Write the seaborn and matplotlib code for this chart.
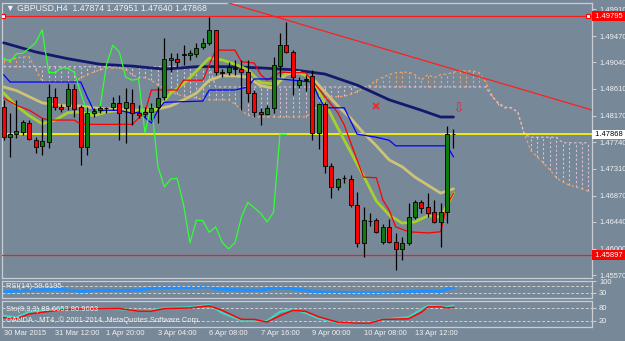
import matplotlib
matplotlib.use("Agg")
import matplotlib.pyplot as plt
import seaborn as sns
import numpy as np

sns.set_style("dark")
plt.rcParams['font.family'] = ['Liberation Sans', 'DejaVu Sans']

# ---- data (GBPUSD H4) ----
opens = [1.4831, 1.4782, 1.4787, 1.4791, 1.4805, 1.4777, 1.4768, 1.4774, 1.4848, 1.4831,
         1.4833, 1.4861, 1.4831, 1.4766, 1.4822, 1.4826, 1.4830, 1.4831, 1.4838, 1.4830,
         1.4838, 1.4822, 1.4823, 1.4823, 1.4831, 1.4848, 1.4908, 1.4910, 1.4916, 1.4916,
         1.4918, 1.4929, 1.4936, 1.4957, 1.4888, 1.4888, 1.4895, 1.4893, 1.4888, 1.4854,
         1.4823, 1.4820, 1.4830, 1.4898, 1.4932, 1.4921, 1.4867, 1.4875, 1.4882, 1.4789,
         1.4836, 1.4735, 1.4701, 1.4716, 1.4714, 1.4672, 1.4610, 1.4645, 1.4647, 1.4611,
         1.4636, 1.4611, 1.4600, 1.4610, 1.4652, 1.4676, 1.4668, 1.4660, 1.4644, 1.4660,
         1.47874]
highs = [1.4843, 1.4822, 1.4843, 1.4810, 1.4810, 1.4782, 1.4813, 1.4869, 1.4862, 1.4836,
         1.4870, 1.4869, 1.4835, 1.4831, 1.4830, 1.4833, 1.4831, 1.4848, 1.4851, 1.4862,
         1.4861, 1.4835, 1.4831, 1.4838, 1.4864, 1.4944, 1.4919, 1.4919, 1.4932, 1.4924,
         1.4936, 1.4944, 1.4978, 1.4957, 1.4893, 1.4905, 1.4908, 1.4908, 1.4908, 1.4859,
         1.4830, 1.4835, 1.4913, 1.4952, 1.4970, 1.4924, 1.4880, 1.4883, 1.4892, 1.4838,
         1.4839, 1.4740, 1.4716, 1.4720, 1.4720, 1.4693, 1.4668, 1.4658, 1.4650, 1.4641,
         1.4649, 1.4626, 1.4619, 1.4675, 1.4680, 1.4680, 1.4691, 1.4680, 1.4675, 1.4800,
         1.47951]
lows = [1.4777, 1.4750, 1.4781, 1.4786, 1.4777, 1.4756, 1.4753, 1.4764, 1.4826, 1.4823,
        1.4826, 1.4815, 1.4737, 1.4753, 1.4815, 1.4822, 1.4822, 1.4826, 1.4777, 1.4773,
        1.4802, 1.4813, 1.4815, 1.4810, 1.4805, 1.4843, 1.4888, 1.4896, 1.4900, 1.4908,
        1.4913, 1.4926, 1.4932, 1.4883, 1.4880, 1.4883, 1.4883, 1.4826, 1.4839, 1.4815,
        1.4802, 1.4818, 1.4822, 1.4880, 1.4919, 1.4851, 1.4862, 1.4857, 1.4777, 1.4763,
        1.4724, 1.4683, 1.4696, 1.4707, 1.4668, 1.4603, 1.4587, 1.4637, 1.4626, 1.4608,
        1.4609, 1.4566, 1.4582, 1.4606, 1.4649, 1.4658, 1.4652, 1.4642, 1.4603, 1.4642,
        1.47640]
closes = [1.4782, 1.4787, 1.4792, 1.4807, 1.4779, 1.4766, 1.4776, 1.4848, 1.4831, 1.4828,
          1.4861, 1.4828, 1.4766, 1.4822, 1.4825, 1.4830, 1.4829, 1.4838, 1.4822, 1.4839,
          1.4822, 1.4818, 1.4820, 1.4830, 1.4846, 1.4910, 1.4911, 1.4905, 1.4918, 1.4919,
          1.4927, 1.4936, 1.4957, 1.4888, 1.4887, 1.4896, 1.4894, 1.4888, 1.4854, 1.4823,
          1.4820, 1.4830, 1.4900, 1.4932, 1.4921, 1.4880, 1.4875, 1.4877, 1.4789, 1.4836,
          1.4735, 1.4701, 1.4714, 1.4715, 1.4672, 1.4610, 1.4647, 1.4646, 1.4627, 1.4636,
          1.4611, 1.4600, 1.4610, 1.4652, 1.4676, 1.4667, 1.4658, 1.4644, 1.4660, 1.4787,
          1.47868]

# moving averages sampled every 2 bars
ma_bars = list(range(0, 71, 2))
ma_slow = [1.4864, 1.4858, 1.4848, 1.4838, 1.4835, 1.4833, 1.4833, 1.4830, 1.4828, 1.4828,
           1.4826, 1.4826, 1.4828, 1.4833, 1.4843, 1.4854, 1.4875, 1.4882, 1.4882, 1.4880,
           1.4866, 1.4862, 1.4885, 1.4887, 1.4879, 1.4856, 1.4833, 1.4813, 1.4789, 1.4768,
           1.4745, 1.4734, 1.4717, 1.4704, 1.4691, 1.4698]
ma_fast = [1.4854, 1.4833, 1.4817, 1.4804, 1.4810, 1.4822, 1.4823, 1.4817, 1.4823, 1.4826,
           1.4826, 1.4826, 1.4828, 1.4854, 1.4869, 1.4890, 1.4911, 1.4908, 1.4901, 1.4892,
           1.4871, 1.4869, 1.4887, 1.4888, 1.4877, 1.4838, 1.4797, 1.4758, 1.4719, 1.4678,
           1.4655, 1.4642, 1.4644, 1.4654, 1.4652, 1.4691]
ma_long_bars = [0, 5, 10, 15, 20, 25, 30, 35, 40, 45, 50, 55, 60, 65, 68, 70]
ma_long = [1.4936, 1.4921, 1.4910, 1.4901, 1.4898, 1.4893, 1.4897, 1.4897, 1.4895, 1.4892,
           1.4885, 1.4867, 1.4843, 1.4826, 1.4815, 1.4815]

# Ichimoku
tenkan_bars = [0, 2, 4, 6, 7, 11, 12, 20, 21, 22, 23, 27, 28, 31, 32, 33, 36, 37, 39, 40,
               41, 43, 47, 48, 50, 52, 53, 55, 56, 58, 59, 60, 61, 63, 66, 68, 69, 70]
tenkan = [1.4846, 1.4834, 1.4826, 1.4813, 1.4810, 1.4810, 1.4803, 1.4803, 1.4813, 1.4823,
          1.4859, 1.4859, 1.4875, 1.4875, 1.4900, 1.4924, 1.4924, 1.4905, 1.4903, 1.4884,
          1.4875, 1.4888, 1.4887, 1.4875, 1.4848, 1.4822, 1.4802, 1.4745, 1.4717, 1.4716,
          1.4680, 1.4663, 1.4636, 1.4628, 1.4626, 1.4628, 1.4672, 1.4691]
kijun_bars = [0, 1, 12, 13, 14, 18, 20, 21, 23, 24, 25, 31, 32, 36, 38, 39, 43, 48, 49, 50,
              53, 55, 58, 60, 61, 69, 70]
kijun = [1.4884, 1.4872, 1.4872, 1.4848, 1.4826, 1.4826, 1.4821, 1.4823, 1.4805, 1.4826,
         1.4839, 1.4841, 1.4859, 1.4859, 1.4864, 1.4877, 1.4877, 1.4872, 1.4848, 1.4830,
         1.4830, 1.4787, 1.4782, 1.4777, 1.4768, 1.4768, 1.4750]
span_a = [1.4908, 1.4908, 1.4911, 1.4913, 1.4913, 1.4892, 1.4874, 1.4872, 1.4872, 1.4872,
          1.4872, 1.4872, 1.4879, 1.4884, 1.4888, 1.4892, 1.4895, 1.4895, 1.4895, 1.4892,
          1.4884, 1.4879, 1.4879, 1.4875, 1.4867, 1.4862, 1.4856, 1.4852, 1.4849, 1.4848,
          1.4846, 1.4844, 1.4843, 1.4843, 1.4843, 1.4843, 1.4836, 1.4826, 1.4818, 1.4815,
          1.4815, 1.4815, 1.4815, 1.4815, 1.4815, 1.4815, 1.4815, 1.4815, 1.4823, 1.4835,
          1.4844, 1.4848, 1.4848, 1.4849, 1.4852, 1.4856, 1.4862, 1.4867, 1.4875, 1.4880,
          1.4884, 1.4887, 1.4888, 1.4888, 1.4884, 1.4875, 1.4884, 1.4879, 1.4884, 1.4885,
          1.4888, 1.4890, 1.4890, 1.4890, 1.4887, 1.4872, 1.4851, 1.4835, 1.4830, 1.4830,
          1.4823, 1.4789, 1.4761, 1.4750, 1.4740, 1.4729, 1.4716, 1.4709, 1.4704, 1.4701,
          1.4698, 1.4694]
span_b = ([1.4897] * 33 + [1.4864] * 43 +
          [1.4848, 1.4838, 1.4831, 1.4830, 1.4823, 1.4787, 1.4782, 1.4782, 1.4782, 1.4782,
           1.4782, 1.4773, 1.4773, 1.4773, 1.4773, 1.4773])
chikou_shift = 26

# levels and objects
resist_level = 1.49795
support_level = 1.45897
trend_bars = [34, 92]
trend_vals = [1.5004, 1.4825]
cross_mark = (58, 1.4833)
arrow_mark = (70.8, 1.4831)

# oscillators
rsi_bars = [0, 3, 5, 9, 12, 15, 18, 21, 24, 27, 30, 32, 33, 37, 40, 42, 44, 47, 48, 52,
            55, 58, 61, 65, 68, 69, 70]
rsi = [37, 43, 47, 50, 39, 46, 43, 47, 61, 61, 63, 66, 53, 47, 46, 57, 57, 46, 37, 33,
       30, 30, 33, 41, 39, 53, 59.6195]
sto_bars = [0, 2, 4, 7, 10, 15, 18, 21, 23, 25, 29, 32, 34, 37, 39, 41, 43, 45, 47, 49,
            52, 55, 57, 59, 63, 65, 66, 68, 69, 70]
sto_main = [42, 35, 60, 68, 75, 76, 72, 65, 68, 78, 82, 92, 55, 20, 18, 18, 60, 72, 55, 30,
            10, 8, 10, 25, 35, 72, 88, 85, 82, 89.6653]
sto_signal = [33, 28, 50, 62, 72, 75, 75, 63, 63, 75, 78, 88, 67, 25, 25, 13, 42, 67, 62, 37,
              12, 8, 8, 25, 28, 58, 83, 83, 78, 80.9663]

price_ticks = [1.49910, 1.49470, 1.49040, 1.48610, 1.48170, 1.47740, 1.47310, 1.46870,
               1.46440, 1.46000, 1.45570]
date_ticks = [0, 8, 16, 24, 32, 40, 48, 56, 64]
date_labels = ["30 Mar 2015", "31 Mar 12:00", "1 Apr 20:00", "3 Apr 04:00", "6 Apr 08:00",
               "7 Apr 16:00", "9 Apr 00:00", "10 Apr 08:00", "13 Apr 12:00"]

# ---- styling ----
bg = "#778899"
frame = "#c9ced4"
txt = "#f2f2f2"
fs = 5.4
W, H = 625, 341
xlim = (-0.25, 91.55)

fig = plt.figure(figsize=(W / 100, H / 100), dpi=100, facecolor=bg)


def add_panel(top, bottom):
    ax = fig.add_axes([2 / W, 1 - bottom / H, 590 / W, (bottom - top) / H])
    ax.set_facecolor(bg)
    for s in ax.spines.values():
        s.set_color(frame)
        s.set_linewidth(0.9)
    ax.set_xlim(*xlim)
    ax.grid(False)
    return ax


ax = add_panel(3, 278)
ax_rsi = add_panel(281, 298)
ax_sto = add_panel(301, 327)

bars = np.arange(len(closes))
o, h, l, c = map(np.array, (opens, highs, lows, closes))

# Ichimoku cloud (hatch + span lines)
cloud_bars = np.arange(len(span_a))
sa, sb = np.array(span_a), np.array(span_b)
up = sa >= sb
ax.vlines(cloud_bars[up], sb[up], sa[up], colors="#f4a460", linestyles=(0, (2, 2)), lw=0.8, zorder=1)
ax.vlines(cloud_bars[~up], sa[~up], sb[~up], colors="#d8bfd8", linestyles=(0, (2, 2)), lw=0.8, zorder=1)
sns.lineplot(x=cloud_bars, y=sa, ax=ax, color="#f4a460", lw=0.9, ls=(0, (2, 2)), zorder=2)
sns.lineplot(x=cloud_bars, y=sb, ax=ax, color="#d8bfd8", lw=0.9, ls=(0, (2, 2)), zorder=2)

# horizontal levels and trend line
ax.axhline(resist_level, color="#ff1a1a", lw=0.9, zorder=3)
ax.axhline(support_level, color="#ff1a1a", lw=0.9, zorder=3)
ax.axhline(closes[-1], color="#ffff00", lw=1.2, zorder=3)
sns.lineplot(x=trend_bars, y=trend_vals, ax=ax, color="#ff2020", lw=0.9, zorder=3)
ax.plot([xlim[0] + 0.15, xlim[1] - 0.55], [resist_level] * 2, ls="none", marker="s", ms=3,
        mfc="white", mec="red", mew=0.8, zorder=4)

# indicator lines
sns.lineplot(x=ma_long_bars, y=ma_long, ax=ax, color="#14196b", lw=2.0, zorder=4)
sns.lineplot(x=ma_bars, y=ma_slow, ax=ax, color="#cfc277", lw=2.0, zorder=4)
sns.lineplot(x=ma_bars, y=ma_fast, ax=ax, color="#a6d12c", lw=2.0, zorder=4)
sns.lineplot(x=tenkan_bars, y=tenkan, ax=ax, color="#ff0000", lw=0.9, zorder=4)
sns.lineplot(x=kijun_bars, y=kijun, ax=ax, color="#0000ff", lw=0.9, zorder=4)
sns.lineplot(x=bars[:len(closes) - chikou_shift], y=c[chikou_shift:], ax=ax, color="#33ff33",
             lw=0.9, zorder=4)

# candles
ax.vlines(bars, l, h, color="black", lw=0.9, zorder=5)
bull = c >= o
body = np.where(np.abs(c - o) < 0.00004, 0.00004, np.abs(c - o))
ax.bar(bars[bull], body[bull], bottom=o[bull], width=0.62, color="#0f7a0f",
       edgecolor="black", lw=0.6, zorder=6)
ax.bar(bars[~bull], body[~bull], bottom=c[~bull], width=0.62, color="#ff0000",
       edgecolor="black", lw=0.6, zorder=6)

ax.plot(*cross_mark, marker="x", color="#ff2020", ms=4, mew=1.2, zorder=6)
ax.text(arrow_mark[0], arrow_mark[1], "\u21e9", color="#ff2020", fontsize=10, ha="center",
        va="center", zorder=6, family="DejaVu Sans")

ax.set_ylim(1.45526, 1.50008)
ax.yaxis.tick_right()
ax.set_yticks(price_ticks, labels=[f"{p:.5f}" for p in price_ticks])
ax.tick_params(axis="y", colors=frame, labelcolor=txt, labelsize=fs, length=3, width=0.8, pad=2)
ax.set_xticks([])
ytr = ax.get_yaxis_transform()
for val, fc, tc in [(resist_level, "#ff0000", "white"), (closes[-1], "white", "black"),
                    (support_level, "#ff0000", "white")]:
    ax.text(1.0025, val, f" {val:.5f} ", transform=ytr, fontsize=fs, color=tc, va="center",
            ha="left", bbox=dict(facecolor=fc, edgecolor="none", pad=0.9), zorder=10, clip_on=False)

fig.text(6 / W, 1 - 8 / H, f"\u25bc GBPUSD,H4  {opens[-1]:.5f} {highs[-1]:.5f} {lows[-1]:.5f} {closes[-1]:.5f}",
         color=txt, fontsize=6.3, va="center", ha="left")

# RSI panel
sns.lineplot(x=rsi_bars, y=rsi, ax=ax_rsi, color="#1e90ff", lw=2.2)
for lev in (70, 30):
    ax_rsi.axhline(lev, color="#d0d0d0", lw=0.7, ls=(0, (3, 2)))
ax_rsi.set_ylim(0, 100)
ax_rsi.set_xticks([])
ax_rsi.yaxis.tick_right()
ax_rsi.set_yticks([100, 30], labels=["100", "30"])
ax_rsi.tick_params(axis="y", colors=frame, labelcolor=txt, labelsize=fs, length=3, pad=2)
ax_rsi.text(0.006, 0.68, f"RSI(14) {rsi[-1]:.4f}", transform=ax_rsi.transAxes, color=txt,
            fontsize=fs, va="center")

# Stochastic panel
sns.lineplot(x=sto_bars, y=sto_main, ax=ax_sto, color="#3fd6c4", lw=1.5, zorder=3)
sns.lineplot(x=sto_bars, y=sto_signal, ax=ax_sto, color="#ff0000", lw=1.1, zorder=4)
for lev in (80, 20):
    ax_sto.axhline(lev, color="#d0d0d0", lw=0.7, ls=(0, (3, 2)), zorder=2)
ax_sto.set_ylim(-10, 110)
ax_sto.yaxis.tick_right()
ax_sto.set_yticks([80, 20], labels=["80", "20"])
ax_sto.tick_params(axis="y", colors=frame, labelcolor=txt, labelsize=fs, length=3, pad=2)
ax_sto.text(0.006, 0.66, f"Sto(8,3,3) {sto_main[-1]:.4f} {sto_signal[-1]:.4f}",
            transform=ax_sto.transAxes, color=txt, fontsize=fs, va="center", zorder=5)
ax_sto.text(0.006, 0.27, "OANDA - MT4, \u00a9 2001-2014, MetaQuotes Software Corp.",
            transform=ax_sto.transAxes, color=txt, fontsize=fs, va="center", zorder=5)
ax_sto.set_xticks(date_ticks, labels=date_labels)
ax_sto.tick_params(axis="x", colors=frame, labelcolor=txt, labelsize=fs, length=2, pad=0.5)
for lab in ax_sto.get_xticklabels():
    lab.set_ha("left")

for a in (ax, ax_rsi, ax_sto):
    a.set_xlabel("")
    a.set_ylabel("")

fig.savefig("out.png", dpi=100, facecolor=bg)
